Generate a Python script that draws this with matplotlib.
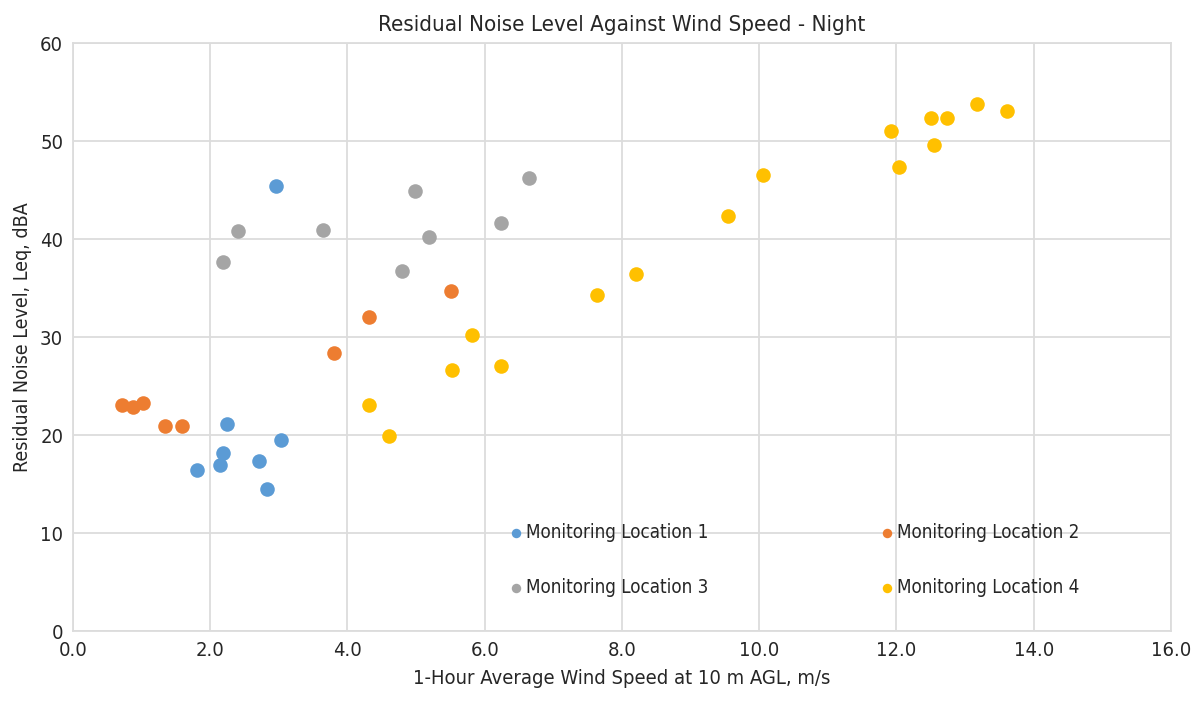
import matplotlib
matplotlib.use("Agg")
import matplotlib.pyplot as plt

loc1_x = [2.96, 2.24, 2.18, 2.14, 1.81, 2.71, 2.83, 3.03]
loc1_y = [45.4, 21.1, 18.2, 16.9, 16.4, 17.35, 14.5, 19.5]

loc2_x = [0.71, 0.87, 1.02, 1.34, 1.59, 3.80, 4.32, 5.51]
loc2_y = [23.1, 22.9, 23.3, 20.9, 20.9, 28.4, 32.0, 34.7]

loc3_x = [2.19, 2.40, 3.65, 4.80, 4.98, 5.19, 6.24, 6.64]
loc3_y = [37.7, 40.85, 40.9, 36.7, 44.9, 40.2, 41.6, 46.2]

loc4_x = [4.31, 4.61, 5.52, 5.81, 6.24, 7.63, 8.20, 9.54, 10.06,
          11.92, 12.04, 12.50, 12.55, 12.73, 13.18, 13.61]
loc4_y = [23.1, 19.9, 26.6, 30.2, 27.0, 34.3, 36.4, 42.4, 46.5,
          51.0, 47.3, 52.4, 49.6, 52.3, 53.8, 53.1]

series = [
    ("Monitoring Location 1", loc1_x, loc1_y, "#5B9BD5"),
    ("Monitoring Location 2", loc2_x, loc2_y, "#ED7D31"),
    ("Monitoring Location 3", loc3_x, loc3_y, "#A5A5A5"),
    ("Monitoring Location 4", loc4_x, loc4_y, "#FFC000"),
]

xticks = [0, 2, 4, 6, 8, 10, 12, 14, 16]
yticks = [0, 10, 20, 30, 40, 50, 60]

plt.rcParams['font.family'] = ['DejaVu Sans']
plt.rcParams['font.stretch'] = 'condensed'

fig = plt.figure(figsize=(12, 7.03), dpi=100)
ax = fig.add_axes([0.0608, 0.1024, 0.915, 0.8364])

handles = []
for label, xs, ys, c in series:
    h = ax.scatter(xs, ys, s=110, color=c, label=label, zorder=3, linewidths=0)
    handles.append(h)

ax.set_xlim(0, 16)
ax.set_ylim(0, 60)
ax.set_xticks(xticks)
ax.set_xticklabels([f"{v:.1f}" for v in xticks])
ax.set_yticks(yticks)
ax.grid(True, color="#dcdcdc", linewidth=1.3, zorder=0)
ax.set_axisbelow(True)
for sp in ax.spines.values():
    sp.set_color("#dcdcdc")
    sp.set_linewidth(1.3)
ax.tick_params(length=0, labelsize=14.5, colors="#262626", pad=7)

ax.set_title("Residual Noise Level Against Wind Speed - Night", fontsize=16, color="#262626", pad=9)
ax.set_xlabel("1-Hour Average Wind Speed at 10 m AGL, m/s", fontsize=14.5, color="#262626", labelpad=7)
ax.set_ylabel("Residual Noise Level, Leq, dBA", fontsize=14, color="#262626", labelpad=6)

order = [0, 2, 1, 3]
leg = ax.legend([handles[i] for i in order], [series[i][0] for i in order],
                loc="center", bbox_to_anchor=(0.658, 0.121), ncol=2, frameon=False,
                fontsize=13.5, markerscale=0.65, handlelength=0.5, handletextpad=0.3,
                columnspacing=9.27, labelspacing=1.9, scatterpoints=1)
for t in leg.get_texts():
    t.set_color("#262626")

fig.savefig("out.png", dpi=100)
